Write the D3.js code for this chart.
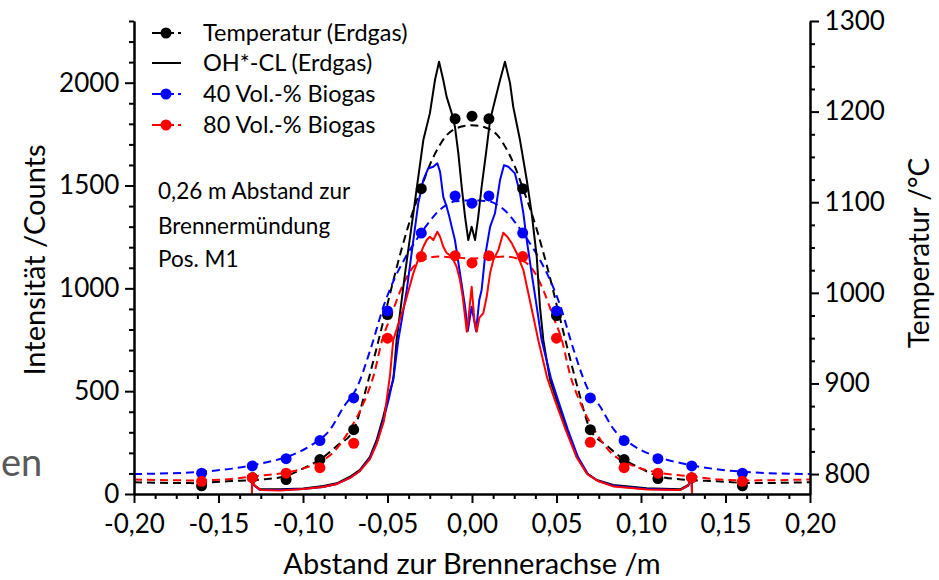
<!DOCTYPE html>
<html>
<head>
<meta charset="utf-8">
<script src="https://cdn.jsdelivr.net/npm/d3@7"></script>
<style>
  body { margin: 0; background: #fff; }
  svg text { font-family: Lato, "Open Sans", sans-serif; fill: #000; }
  .axis path, .axis line { stroke: #000; stroke-width: 2; }
</style>
</head>
<body>
<svg id="chart" width="939" height="580"></svg>
<script>
// ---- Data ----
// axis ticks
const xMajor = [-0.2, -0.15, -0.1, -0.05, 0, 0.05, 0.1, 0.15, 0.2];
const xTickLabels = ['-0,20', '-0,15', '-0,10', '-0,05', '0,00', '0,05', '0,10', '0,15', '0,20'];
const yIntMajor = [0, 500, 1000, 1500, 2000];
const yTempMajor = [800, 900, 1000, 1100, 1200, 1300];

// temperature measurements (right axis, °C)
const tempX = [-0.16, -0.13, -0.11, -0.09, -0.07, -0.05, -0.03, -0.01, 0, 0.01, 0.03, 0.05, 0.07, 0.09, 0.11, 0.13, 0.16];
const tempErdgas = [787, 796, 794, 816, 849, 976, 1115, 1192, 1195, 1192, 1115, 975, 849, 816, 795, 796, 787];
const tempBio40 = [801, 809, 817, 837, 884, 980, 1066, 1107, 1099, 1107, 1066, 980, 884, 837, 817, 809, 801];
const tempBio80 = [792, 796, 801, 807, 834, 950, 1040, 1041, 1033, 1041, 1040, 950, 835, 807, 801, 796, 792];

// dashed fit curves of the temperature profiles [x, °C]
const fitErdgas = [[-0.2, 791], [-0.165, 790], [-0.145, 792], [-0.124, 794], [-0.11, 798], [-0.098, 808], [-0.09, 816], [-0.08, 831],
  [-0.07, 849], [-0.063, 892], [-0.057, 935], [-0.051, 980], [-0.045, 1025], [-0.038, 1072], [-0.03, 1116], [-0.025, 1141],
  [-0.02, 1160], [-0.015, 1174], [-0.01, 1181], [0, 1185], [0.01, 1181], [0.015, 1174], [0.02, 1160], [0.025, 1141],
  [0.03, 1116], [0.038, 1072], [0.045, 1025], [0.051, 980], [0.057, 935], [0.063, 892], [0.07, 849], [0.08, 831],
  [0.09, 816], [0.098, 808], [0.11, 798], [0.124, 794], [0.145, 792], [0.165, 790], [0.2, 791]];
const fitBio40 = [[-0.2, 800], [-0.165, 802], [-0.142, 806], [-0.124, 812], [-0.108, 820], [-0.095, 832], [-0.084, 849], [-0.076, 874],
  [-0.068, 896], [-0.06, 938], [-0.052, 987], [-0.046, 1015], [-0.04, 1037], [-0.032, 1061], [-0.025, 1079], [-0.02, 1090],
  [-0.015, 1097], [-0.01, 1101], [0, 1102], [0.01, 1101], [0.015, 1097], [0.02, 1090], [0.025, 1079], [0.032, 1061],
  [0.04, 1037], [0.046, 1015], [0.052, 987], [0.06, 938], [0.068, 896], [0.076, 874], [0.084, 849], [0.095, 832],
  [0.108, 820], [0.124, 812], [0.142, 806], [0.165, 802], [0.2, 800]];
const fitBio80 = [[-0.2, 794], [-0.165, 793], [-0.147, 794], [-0.127, 798], [-0.109, 802], [-0.093, 811], [-0.082, 824], [-0.072, 850],
  [-0.064, 879], [-0.058, 910], [-0.053, 949], [-0.048, 974], [-0.042, 1004], [-0.035, 1028], [-0.028, 1037], [-0.02, 1040],
  [-0.01, 1039], [0, 1038], [0.01, 1039], [0.02, 1040], [0.028, 1037], [0.035, 1028], [0.042, 1004], [0.048, 974],
  [0.053, 949], [0.058, 910], [0.064, 879], [0.072, 850], [0.082, 824], [0.093, 811], [0.109, 802], [0.127, 798],
  [0.147, 794], [0.165, 793], [0.2, 794]];

// OH*-chemiluminescence profiles (left axis, counts) [x, counts]
const ohErdgas = [[-0.1302, 0], [-0.1302, 63], [-0.1293, 44], [-0.1254, 23], [-0.1136, 23], [-0.0998, 27], [-0.088, 39], [-0.08, 52],
  [-0.0722, 84], [-0.0663, 117], [-0.0604, 181], [-0.0564, 263], [-0.0525, 376], [-0.0495, 473], [-0.0466, 554], [-0.0456, 650],
  [-0.0446, 749], [-0.0396, 1074], [-0.0347, 1366], [-0.0288, 1721], [-0.0249, 1852], [-0.0219, 2013], [-0.0195, 2102],
  [-0.017, 2013], [-0.015, 1931], [-0.012, 1852], [-0.0101, 1786], [-0.0081, 1658], [-0.0061, 1494], [-0.0041, 1348],
  [-0.0022, 1235], [-0.0002, 1299], [0.0018, 1235], [0.0037, 1348], [0.0057, 1494], [0.0083, 1658], [0.0107, 1818],
  [0.0136, 1915], [0.0166, 2013], [0.0195, 2102], [0.0225, 1998], [0.0244, 1883], [0.0284, 1721], [0.0324, 1527],
  [0.0353, 1366], [0.0383, 1154], [0.0402, 911], [0.0422, 749], [0.0442, 650], [0.0462, 554], [0.0501, 457], [0.056, 311],
  [0.062, 181], [0.0679, 101], [0.0738, 68], [0.0836, 44], [0.1034, 28], [0.1231, 23], [0.128, 44], [0.13, 76], [0.1302, 0]];
const ohBio40 = [[-0.1302, 0], [-0.1302, 63], [-0.1293, 44], [-0.1254, 19], [-0.1136, 19], [-0.1, 24], [-0.0882, 34], [-0.0799, 49],
  [-0.0722, 78], [-0.0663, 112], [-0.0604, 175], [-0.0562, 253], [-0.0521, 369], [-0.0491, 467], [-0.0462, 579], [-0.0436, 749],
  [-0.0386, 992], [-0.0347, 1235], [-0.0318, 1413], [-0.0288, 1527], [-0.0259, 1583], [-0.0229, 1591], [-0.0205, 1608],
  [-0.0189, 1567], [-0.017, 1445], [-0.015, 1397], [-0.0134, 1348], [-0.012, 1299], [-0.0101, 1235], [-0.0071, 1073],
  [-0.0041, 911], [-0.0025, 792], [-0.0002, 911], [0.0024, 792], [0.0043, 943], [0.0057, 992], [0.0077, 1154], [0.0107, 1299],
  [0.0136, 1365], [0.0166, 1527], [0.0189, 1599], [0.0215, 1591], [0.0235, 1575], [0.0254, 1559], [0.0284, 1462],
  [0.0304, 1365], [0.0324, 1235], [0.0353, 1073], [0.0383, 911], [0.0412, 749], [0.0467, 564], [0.0509, 457], [0.0568, 311],
  [0.0627, 180], [0.0686, 97], [0.0746, 63], [0.084, 39], [0.1036, 24], [0.1231, 19], [0.1278, 39], [0.1299, 73], [0.1302, 0]];
const ohBio80 = [[-0.1302, 0], [-0.1302, 68], [-0.1284, 39], [-0.1249, 19], [-0.1136, 17], [-0.1, 24], [-0.0882, 34], [-0.0799, 49],
  [-0.0722, 78], [-0.0663, 112], [-0.0604, 170], [-0.0562, 248], [-0.0521, 355], [-0.0509, 433], [-0.0485, 579], [-0.0466, 749],
  [-0.0396, 929], [-0.0347, 1074], [-0.0312, 1154], [-0.0288, 1202], [-0.0268, 1235], [-0.0249, 1251], [-0.0229, 1235],
  [-0.0205, 1275], [-0.0189, 1251], [-0.017, 1202], [-0.015, 1172], [-0.012, 1154], [-0.0091, 1105], [-0.0071, 1040],
  [-0.0055, 959], [-0.0041, 862], [-0.0031, 789], [-0.0022, 846], [-0.0002, 1008], [0.0014, 846], [0.0028, 789], [0.0043, 856],
  [0.0067, 880], [0.0087, 959], [0.0107, 1074], [0.0126, 1138], [0.0156, 1186], [0.0185, 1270], [0.0209, 1251], [0.0235, 1220],
  [0.0264, 1172], [0.0304, 1089], [0.0333, 977], [0.0363, 862], [0.0392, 749], [0.0445, 564], [0.049, 457], [0.0555, 311],
  [0.0618, 180], [0.0682, 97], [0.0746, 63], [0.084, 36], [0.1036, 22], [0.1231, 19], [0.1278, 41], [0.1299, 78], [0.1302, 0]];

const legendItems = [
  { label: 'Temperatur (Erdgas)', color: '#000', dash: true, dot: true },
  { label: 'OH*-CL (Erdgas)', color: '#000', dash: false, dot: false },
  { label: '40 Vol.-% Biogas', color: '#0000ff', dash: true, dot: true },
  { label: '80 Vol.-% Biogas', color: '#ff0000', dash: true, dot: true }
];
const noteLines = ['0,26 m Abstand zur', 'Brennermündung', 'Pos. M1'];

// ---- Setup ----
const svg = d3.select('#chart');
const plot = { left: 134, right: 810, top: 21, bottom: 494 };

const xScale = d3.scaleLinear().domain([-0.2, 0.2]).range([plot.left, plot.right]);
const yInt = d3.scaleLinear().domain([0, 2300]).range([plot.bottom, plot.top]);
const yTemp = d3.scaleLinear().domain([778, 1300]).range([plot.bottom, plot.top]);

const DASH = '8,5';

// stray slide text at the left edge
svg.append('text').attr('x', 1).attr('y', 476)
  .style('font-size', '38px').style('fill', '#595959').text('en');

// ---- Lines ----
const lineInt = d3.line().x(d => xScale(d[0])).y(d => yInt(d[1]));
const lineTemp = d3.line().x(d => xScale(d[0])).y(d => yTemp(d[1])).curve(d3.curveMonotoneX);

const lines = svg.append('g').attr('class', 'lines').attr('fill', 'none').attr('stroke-width', 2);

[[fitErdgas, '#000'], [fitBio40, '#0000ff'], [fitBio80, '#ff0000']].forEach(([data, color]) => {
  lines.append('path').attr('d', lineTemp(data)).attr('stroke', color).attr('stroke-dasharray', DASH);
});
[[ohErdgas, '#000'], [ohBio40, '#0000ff'], [ohBio80, '#ff0000']].forEach(([data, color]) => {
  lines.append('path').attr('d', lineInt(data)).attr('stroke', color).attr('stroke-linejoin', 'round');
});

// ---- Dots ----
const dots = svg.append('g').attr('class', 'dots');
[[tempErdgas, '#000'], [tempBio40, '#0000ff'], [tempBio80, '#ff0000']].forEach(([vals, color]) => {
  dots.append('g').selectAll('circle').data(vals).join('circle')
    .attr('cx', (d, i) => xScale(tempX[i]))
    .attr('cy', d => yTemp(d))
    .attr('r', 5.5)
    .attr('fill', color);
});

// ---- Axes ----
const minorX = d3.range(-0.2, 0.2001, 0.0125).filter(v => Math.abs(Math.round(v / 0.05) * 0.05 - v) > 1e-6);
const minorInt = d3.range(0, 2301, 100).filter(v => v % 500 !== 0);
const minorTemp = d3.range(800, 1300, 25).filter(v => v % 100 !== 0);

const xAxisG = svg.append('g').attr('class', 'axis').attr('transform', `translate(0,${plot.bottom})`);
xAxisG.call(d3.axisBottom(xScale).tickValues(minorX).tickSize(5).tickSizeOuter(0).tickFormat(''));
xAxisG.append('g').call(d3.axisBottom(xScale).tickValues(xMajor).tickSize(9).tickSizeOuter(0)
  .tickFormat((d, i) => xTickLabels[i]));

const yLeftG = svg.append('g').attr('class', 'axis').attr('transform', `translate(${plot.left},0)`);
yLeftG.call(d3.axisLeft(yInt).tickValues(minorInt).tickSize(5).tickSizeOuter(0).tickFormat(''));
yLeftG.append('g').call(d3.axisLeft(yInt).tickValues(yIntMajor).tickSize(9).tickSizeOuter(0).tickFormat(d3.format('d')));

const yRightG = svg.append('g').attr('class', 'axis').attr('transform', `translate(${plot.right},0)`);
yRightG.call(d3.axisRight(yTemp).tickValues(minorTemp).tickSize(5).tickSizeOuter(0).tickFormat(''));
yRightG.append('g').call(d3.axisRight(yTemp).tickValues(yTempMajor).tickSize(9).tickSizeOuter(0).tickFormat(d3.format('d')));

svg.selectAll('.axis text').style('font-size', '26px').style('font-family', 'Lato, sans-serif');
xAxisG.selectAll('text').attr('dy', '1.05em');
yLeftG.selectAll('text').attr('dx', '-0.1em');
yRightG.selectAll('text').attr('dx', '0.1em');

// ---- Axis titles ----
svg.append('text').attr('transform', 'translate(45,260) rotate(-90)').attr('text-anchor', 'middle')
  .style('font-size', '29px').text('Intensität /Counts');
svg.append('text').attr('transform', 'translate(929,253) rotate(-90)').attr('text-anchor', 'middle')
  .style('font-size', '28px').text('Temperatur /°C');
svg.append('text').attr('x', 472).attr('y', 574).attr('text-anchor', 'middle')
  .style('font-size', '29px').text('Abstand zur Brennerachse /m');

// ---- Legend ----
const legend = svg.append('g').attr('class', 'legend');
const legendRows = [33, 63, 94, 125];
legendItems.forEach((item, i) => {
  const g = legend.append('g').attr('transform', `translate(0,${legendRows[i]})`);
  g.append('line').attr('x1', 152).attr('x2', 181).attr('y1', 0).attr('y2', 0)
    .attr('stroke', item.color).attr('stroke-width', 2)
    .attr('stroke-dasharray', item.dash ? '9,4' : null);
  if (item.dot) g.append('circle').attr('cx', 166).attr('cy', 0).attr('r', 5.5).attr('fill', item.color);
  g.append('text').attr('x', 203).attr('y', 0).attr('dy', '0.35em').style('font-size', '23.5px').text(item.label);
});

// ---- Note ----
const noteRows = [191, 226, 259];
noteLines.forEach((t, i) => {
  svg.append('text').attr('x', 158).attr('y', noteRows[i]).attr('dy', '0.35em')
    .style('font-size', '22.5px').text(t);
});
</script>
</body>
</html>
